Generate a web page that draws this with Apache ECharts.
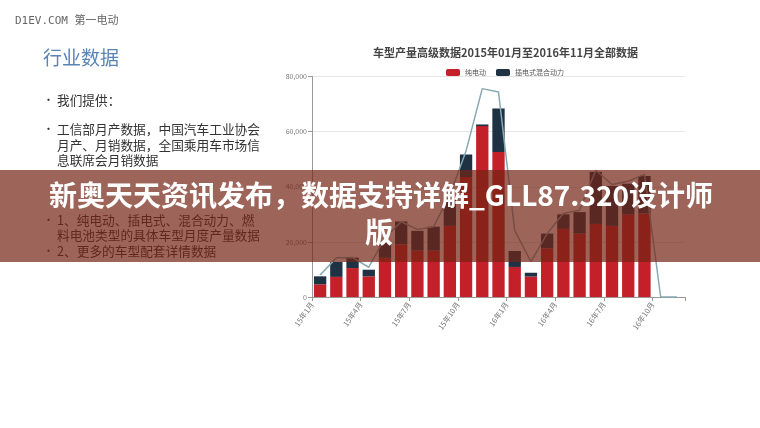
<!DOCTYPE html>
<html>
<head>
<meta charset="utf-8">
<script src="https://cdn.jsdelivr.net/npm/echarts@6/dist/echarts.min.js"></script>
<style>
html,body{margin:0;padding:0;background:#fff;}
#chart{width:760px;height:428px;}
</style>
</head>
<body>
<div id="chart"></div>
<script>
// ---- data ----
const categories = ['15年1月','15年2月','15年3月','15年4月','15年5月','15年6月','15年7月','15年8月','15年9月','15年10月','15年11月','15年12月',
  '16年1月','16年2月','16年3月','16年4月','16年5月','16年6月','16年7月','16年8月','16年9月','16年10月','16年11月'];
const evValues   = [4600, 7300, 10500, 7500, 14200, 19100, 16800, 16800, 25800, 43500, 62000, 52600, 10900, 7400, 17600, 24700, 23000, 26500, 25800, 29900, 30300, 0, 0];
const phevValues = [2900, 5400, 3800, 2400, 5800, 8300, 7200, 8700, 9500, 8200, 600, 15800, 5800, 1400, 5400, 5300, 7800, 18900, 14500, 11200, 13600, 0, 0];
const totalLine  = [8000, 14200, 14300, 10800, 21500, 27300, 24500, 25500, 37000, 53000, 75600, 74400, 24200, 12800, 23000, 30300, 31500, 46000, 40800, 42000, 44500, 0, 0];
const seriesNames = ['纯电动', '插电式混合动力'];
const chartTitle = '车型产量高级数据2015年01月至2016年11月全部数据';
const yTickValues = [0, 20000, 40000, 60000, 80000];
const xLabelStep = 3;

const slideHeader = 'D1EV.COM 第一电动';
const slideTitle = '行业数据';
const slideLines = [
  {b: true,  t: '我们提供：', y: 100},
  {b: true,  t: '工信部月产数据，中国汽车工业协会', y: 129},
  {b: false, t: '月产、月销数据，全国乘用车市场信', y: 145},
  {b: false, t: '息联席会月销数据', y: 160.5},
  {b: true,  t: '1、纯电动、插电式、混合动力、燃', y: 220},
  {b: false, t: '料电池类型的具体车型月度产量数据', y: 235.5},
  {b: true,  t: '2、更多的车型配套详情数据', y: 251}
];
const bannerLine1 = '新奥天天资讯发布，数据支持详解_GLL87.320设计师';
const bannerLine2 = '版';

// ---- chart ----
const chart = echarts.init(document.getElementById('chart'), null, {renderer: 'canvas'});
const cjk = '"Noto Sans CJK SC", "Noto Sans", sans-serif';

const graphics = [];
graphics.push({type: 'text', z: 1, style: {text: slideHeader, x: 15, y: 21, verticalAlign: 'middle',
  font: '11px "DejaVu Sans Mono", "Noto Sans CJK SC"', fill: '#666'}});
graphics.push({type: 'text', z: 1, style: {text: slideTitle, x: 43, y: 58, verticalAlign: 'middle',
  font: '19px ' + cjk, fill: '#5a84b4'}});
slideLines.forEach(function (l) {
  if (l.b) {
    graphics.push({type: 'text', z: 1, style: {text: '•', x: 43, y: l.y, verticalAlign: 'middle',
      font: '11px ' + cjk, fill: '#333'}});
  }
  graphics.push({type: 'text', z: 1, style: {text: l.t, x: 57, y: l.y, verticalAlign: 'middle',
    font: '12.7px ' + cjk, fill: '#333'}});
});
graphics.push({type: 'rect', z: 100, shape: {x: 0, y: 170, width: 760, height: 92},
  style: {fill: 'rgba(115,35,20,0.70)'}});
graphics.push({type: 'text', z: 101, style: {text: bannerLine1, x: 381, y: 195, align: 'center', verticalAlign: 'middle',
  font: 'bold 28px ' + cjk, fill: '#fff', shadowBlur: 2, shadowColor: 'rgba(0,0,0,0.35)'}});
graphics.push({type: 'text', z: 101, style: {text: bannerLine2, x: 379, y: 232, align: 'center', verticalAlign: 'middle',
  font: 'bold 28px ' + cjk, fill: '#fff', shadowBlur: 2, shadowColor: 'rgba(0,0,0,0.35)'}});

const option = {
  backgroundColor: '#fff',
  animation: false,
  textStyle: {fontFamily: cjk},
  title: {
    text: chartTitle, left: 368, top: 42,
    textStyle: {fontSize: 11, fontWeight: 'bold', color: '#444', fontFamily: cjk}
  },
  legend: {
    data: seriesNames, left: 441, top: 64, icon: 'roundRect',
    itemWidth: 14, itemHeight: 7, itemGap: 10,
    textStyle: {fontSize: 7, color: '#555'}
  },
  grid: {left: 312, right: 75, top: 76.5, bottom: 131, containLabel: false},
  xAxis: [
    {
      type: 'category', data: categories, boundaryGap: true,
      axisLine: {show: true, lineStyle: {color: '#999', width: 1}},
      axisTick: {show: true, interval: xLabelStep - 1, length: 4, lineStyle: {color: '#999'}},
      axisLabel: {show: false}
    },
    {
      type: 'value', position: 'bottom', min: 0, max: categories.length, interval: xLabelStep,
      axisLine: {show: false}, axisTick: {show: false}, splitLine: {show: false},
      axisLabel: {
        rotate: 55, fontSize: 7.5, color: '#777', margin: 6,
        formatter: function (v) { return (v % xLabelStep === 0 && v < categories.length) ? categories[v] : ''; }
      }
    }
  ],
  yAxis: {
    type: 'value', min: yTickValues[0], max: yTickValues[yTickValues.length - 1],
    interval: yTickValues[1] - yTickValues[0],
    axisLine: {show: true, lineStyle: {color: '#999'}},
    axisTick: {show: true, length: 4, lineStyle: {color: '#999'}},
    axisLabel: {fontSize: 7, color: '#777', margin: 5,
      formatter: function (v) { return v.toLocaleString('en-US'); }},
    splitLine: {show: true, lineStyle: {color: '#e6e6e6'}}
  },
  series: [
    {name: seriesNames[0], type: 'bar', stack: 'a', data: evValues, barCategoryGap: '24%',
      itemStyle: {color: '#c3202a'}},
    {name: seriesNames[1], type: 'bar', stack: 'a', data: phevValues,
      itemStyle: {color: '#1f3244'}},
    {name: '合计', type: 'line', data: totalLine, symbol: 'none', z: 5,
      lineStyle: {color: '#86aab2', width: 1.5}}
  ],
  graphic: graphics
};
chart.setOption(option);
</script>
</body>
</html>
